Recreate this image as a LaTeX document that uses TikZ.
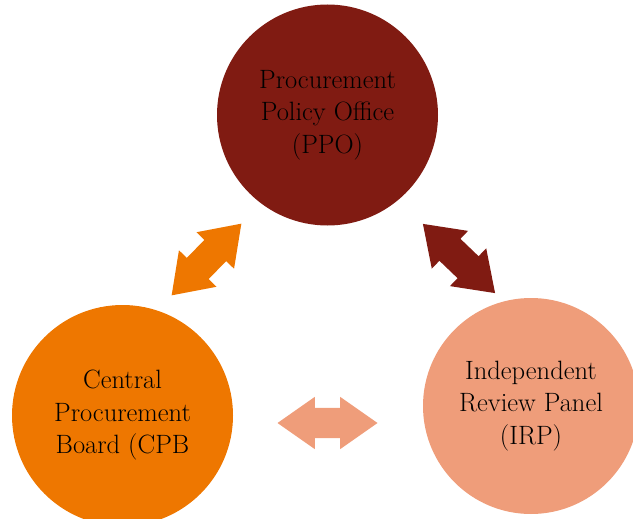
\documentclass[tikz,border=0pt]{standalone}
\usepackage{xcolor}
\usetikzlibrary{shapes.arrows}
\definecolor{ppored}{RGB}{128,27,18}
\definecolor{cpborange}{RGB}{238,119,0}
\definecolor{irpsalmon}{RGB}{239,157,122}

\begin{document}
\begin{tikzpicture}[x=1pt,y=-1pt,
  body/.style={circle,inner sep=0pt,align=center,font=\fontsize{26.5}{32.5}\selectfont},
  link/.style={double arrow,inner sep=0pt,inner ysep=15pt,minimum width=52pt,
    minimum height=100pt,double arrow head extend=11pt,double arrow tip angle=70}]
\useasboundingbox (0,0) rectangle (633,519);
\clip (0,0) rectangle (633,519);
% the three offices
\node[body,fill=ppored,minimum size=221pt] (ppo) at (327.5,115) {Procurement\\Policy Office\\(PPO)};
\node[body,fill=cpborange,minimum size=221pt] (cpb) at (122.5,415.5) {Central\\Procurement\\Board (CPB};
\node[body,fill=irpsalmon,minimum size=216pt] (irp) at (531,406) {Independent\\Review Panel\\(IRP)};
% two-way links
\node[link,fill=cpborange,rotate=45.8] (cpbppo) at (206.5,259.5) {};
\node[link,fill=ppored,rotate=-43.8] (ppoirp) at (459,258.5) {};
\node[link,fill=irpsalmon] (cpbirp) at (327.5,423) {};
\end{tikzpicture}
\end{document}
